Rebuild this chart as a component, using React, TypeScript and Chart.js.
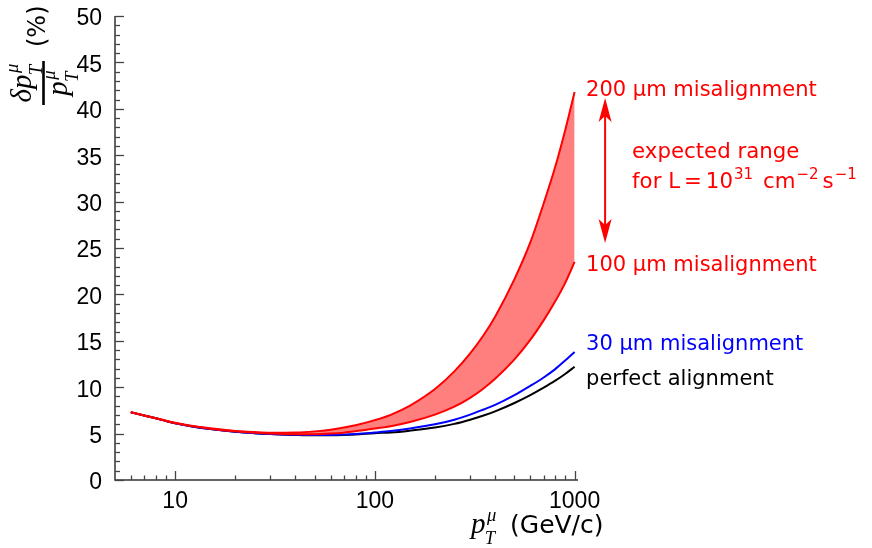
import React, { useEffect, useRef } from 'react';
import { Chart, registerables } from 'chart.js';

Chart.register(...registerables);

// ---- data ----
const pT = [6, 7, 8, 9, 10, 12, 15, 20, 25, 30, 40, 50, 60, 70, 80, 100, 120, 150, 200, 250, 300, 350, 400, 500, 600, 700, 800, 900, 1000];
const perfectAlignment = [7.3, 6.95, 6.65, 6.35, 6.12, 5.8, 5.5, 5.2, 5.05, 4.95, 4.86, 4.82, 4.82, 4.85, 4.9, 5.05, 5.12, 5.32, 5.65, 6.05, 6.5, 6.95, 7.4, 8.3, 9.15, 9.95, 10.7, 11.45, 12.2];
const misalign30 = [7.3, 6.95, 6.65, 6.35, 6.12, 5.8, 5.5, 5.2, 5.05, 4.96, 4.87, 4.84, 4.85, 4.9, 4.96, 5.12, 5.27, 5.55, 6.0, 6.5, 7.05, 7.6, 8.1, 9.15, 10.15, 11.05, 11.95, 12.9, 13.8];
const misalign100 = [7.3, 6.95, 6.65, 6.36, 6.13, 5.82, 5.53, 5.25, 5.1, 5.0, 4.94, 4.94, 5.0, 5.1, 5.25, 5.55, 5.8, 6.25, 7.05, 7.9, 8.85, 9.86, 10.9, 13.0, 15.1, 17.2, 19.25, 21.3, 23.5];
const misalign200 = [7.3, 6.96, 6.66, 6.38, 6.16, 5.86, 5.58, 5.28, 5.16, 5.1, 5.12, 5.24, 5.42, 5.65, 5.9, 6.45, 7.02, 8.02, 9.8, 11.7, 13.65, 15.6, 17.6, 21.65, 25.6, 29.8, 33.75, 37.8, 41.8];

const xMajorTicks = [10, 100, 1000];
const xMinorTicks = [6, 7, 8, 9, 20, 30, 40, 50, 60, 70, 80, 90, 200, 300, 400, 500, 600, 700, 800, 900];
const X_MIN = 5;
const X_MAX = 1040;
const Y_MIN = 0;
const Y_MAX = 50;
const Y_STEP = 5;
const Y_MINOR_STEP = 1;

const label200 = '200 µm misalignment';
const label100 = '100 µm misalignment';
const label30 = '30 µm misalignment';
const labelPerfect = 'perfect alignment';
const rangeLine1 = 'expected range';

const RED = '#ff0000';
const BLUE = '#0000ff';
const BLACK = '#000000';
const SANS = '"DejaVu Sans"';
const TICK_FONT = '"Liberation Sans"';
const SERIF = '"Liberation Serif"';

function toPoints(ys: number[]) {
  return pT.map((x, i) => ({ x, y: ys[i] }));
}

// draws p_T^mu (optionally with delta prefix), returns width
function drawPT(ctx: CanvasRenderingContext2D, x: number, y: number, s: number, withDelta: boolean) {
  ctx.font = `italic ${s}px ${SERIF}`;
  const base = (withDelta ? 'δ' : '') + 'p';
  ctx.fillText(base, x, y);
  const w = ctx.measureText(base).width;
  const ss = s * 0.64;
  ctx.font = `italic ${ss}px ${SERIF}`;
  ctx.fillText('μ', x + w + 1.5, y - s * 0.42);
  ctx.fillText('T', x + w - s * 0.03, y + s * 0.38);
  const w2 = Math.max(ctx.measureText('μ').width + 1.5, ctx.measureText('T').width);
  return w + w2;
}

function ptWidth(ctx: CanvasRenderingContext2D, s: number, withDelta: boolean) {
  ctx.font = `italic ${s}px ${SERIF}`;
  const w = ctx.measureText((withDelta ? 'δ' : '') + 'p').width;
  ctx.font = `italic ${s * 0.64}px ${SERIF}`;
  return w + Math.max(ctx.measureText('μ').width + 1.5, ctx.measureText('T').width);
}

function arrowHead(ctx: CanvasRenderingContext2D, x: number, tipY: number, dir: number) {
  const L = 24, W = 6.5, N = 18;
  ctx.beginPath();
  ctx.moveTo(x, tipY);
  ctx.lineTo(x - W, tipY + dir * L);
  ctx.lineTo(x, tipY + dir * N);
  ctx.lineTo(x + W, tipY + dir * L);
  ctx.closePath();
  ctx.fill();
}

const decorPlugin = {
  id: 'decor',
  afterDraw(chart: any) {
    const { ctx, chartArea: ca, scales } = chart;
    const xs = scales.x;
    const ys = scales.y;
    ctx.save();

    // axes
    ctx.strokeStyle = '#333';
    ctx.lineWidth = 1.5;
    ctx.beginPath();
    ctx.moveTo(ca.left, ca.top);
    ctx.lineTo(ca.left, ca.bottom);
    ctx.lineTo(ca.right, ca.bottom);
    ctx.stroke();

    // y ticks (inside)
    ctx.lineWidth = 1.3;
    ctx.strokeStyle = '#444';
    for (let v = Y_MIN; v <= Y_MAX + 1e-9; v += Y_MINOR_STEP) {
      const py = Math.round(ys.getPixelForValue(v)) + 0.5;
      const len = Math.abs(v % Y_STEP) < 1e-9 ? 9 : 5;
      ctx.beginPath();
      ctx.moveTo(ca.left, py);
      ctx.lineTo(ca.left + len, py);
      ctx.stroke();
    }
    // x ticks (inside)
    xs.ticks.forEach((t: any) => {
      const px = Math.round(xs.getPixelForValue(t.value)) + 0.5;
      const len = t.major ? 9 : 4.5;
      ctx.beginPath();
      ctx.moveTo(px, ca.bottom);
      ctx.lineTo(px, ca.bottom - len);
      ctx.stroke();
    });

    // x title
    ctx.fillStyle = BLACK;
    ctx.textBaseline = 'alphabetic';
    ctx.textAlign = 'left';
    const xt = 471;
    const wpt = drawPT(ctx, xt, 533, 29, false);
    ctx.font = `25px ${SANS}`;
    ctx.fillText('(GeV/c)', Math.max(xt + wpt + 8, 510), 533);

    // y title (rotated)
    ctx.save();
    ctx.translate(43.5, 105);
    ctx.rotate(-Math.PI / 2);
    ctx.fillRect(0, -1.3, 44, 2.6);
    const numW = ptWidth(ctx, 29, true);
    drawPT(ctx, 22 - numW / 2, -13, 29, true);
    const denW = ptWidth(ctx, 29, false);
    drawPT(ctx, 22 - denW / 2, 23.5, 29, false);
    ctx.font = `24px ${SANS}`;
    ctx.fillText('(%)', 58, 1);
    ctx.restore();

    // annotations
    const xEnd = xs.getPixelForValue(1000);
    const lx = xEnd + 11.5;
    ctx.font = `21px ${SANS}`;
    ctx.fillStyle = RED;
    ctx.fillText(label200, lx, 96);
    ctx.fillText(label100, lx, 270.7);
    ctx.fillStyle = BLUE;
    ctx.fillText(label30, lx, 350);
    ctx.fillStyle = BLACK;
    ctx.fillText(labelPerfect, lx, 385);

    // arrow
    const ax = xEnd + 30.5;
    ctx.fillStyle = RED;
    ctx.strokeStyle = RED;
    ctx.lineWidth = 2;
    ctx.beginPath();
    ctx.moveTo(ax, 98 + 18);
    ctx.lineTo(ax, 243 - 18);
    ctx.stroke();
    arrowHead(ctx, ax, 98, 1);
    arrowHead(ctx, ax, 243, -1);

    // expected range text
    const tx = xEnd + 57.5;
    const big = `21.3px ${SANS}`;
    const small = `15px ${SANS}`;
    ctx.font = big;
    ctx.fillText(rangeLine1, tx, 158.3);
    const b2 = 188.3;
    const sup = b2 - 9;
    let cx = tx;
    const run = (t: string, f: string, y: number, after: number) => {
      ctx.font = f;
      ctx.fillText(t, cx, y);
      cx += ctx.measureText(t).width + after;
    };
    run('for L', big, b2, 4);
    run('=', big, b2, 4);
    run('10', big, b2, 1);
    run('31', small, sup, 10);
    run('cm', big, b2, 1);
    run('−2', small, sup, 4);
    run('s', big, b2, 1);
    run('−1', small, sup, 0);

    ctx.restore();
  },
};

export default function App() {
  const ref = useRef<HTMLCanvasElement>(null);
  useEffect(() => {
    document.body.style.margin = '0';
    const common = {
      borderWidth: 2,
      fill: false,
      pointRadius: 0,
      cubicInterpolationMode: 'monotone',
    };
    const chart = new Chart(ref.current as HTMLCanvasElement, {
      type: 'line',
      data: {
        datasets: [
          { ...common, label: label200, data: toPoints(misalign200), borderColor: RED, backgroundColor: 'rgba(255,0,0,0.5)', fill: '+1' },
          { ...common, label: label100, data: toPoints(misalign100), borderColor: RED },
          { ...common, label: label30, data: toPoints(misalign30), borderColor: BLUE },
          { ...common, label: labelPerfect, data: toPoints(perfectAlignment), borderColor: BLACK },
        ],
      },
      options: {
        animation: false,
        responsive: false,
        devicePixelRatio: 1,
        layout: { padding: { left: 0, right: 294, top: 16, bottom: 0 } },
        plugins: {
          legend: { display: false },
          tooltip: { enabled: false },
          filler: { drawTime: 'beforeDatasetsDraw' },
        },
        scales: {
          x: {
            type: 'logarithmic',
            min: X_MIN,
            max: X_MAX,
            grid: { display: false, drawTicks: false },
            border: { display: false },
            afterBuildTicks: (s: any) => {
              s.ticks = [...xMinorTicks, ...xMajorTicks]
                .sort((a, b) => a - b)
                .map((v) => ({ value: v, major: xMajorTicks.includes(v) }));
            },
            afterFit: (s: any) => {
              s.height = 68;
              s.paddingLeft = 0;
              s.paddingRight = 0;
            },
            ticks: {
              autoSkip: false,
              maxRotation: 0,
              minRotation: 0,
              padding: 8,
              color: BLACK,
              font: { family: TICK_FONT, size: 23 },
              callback: (v: any) => (xMajorTicks.includes(Number(v)) ? String(v) : ''),
            },
          },
          y: {
            type: 'linear',
            min: Y_MIN,
            max: Y_MAX,
            grid: { display: false, drawTicks: false },
            border: { display: false },
            afterFit: (s: any) => {
              s.width = 115;
              s.paddingTop = 0;
              s.paddingBottom = 0;
            },
            ticks: {
              stepSize: Y_STEP,
              padding: 13,
              labelOffset: 3,
              color: BLACK,
              font: { family: TICK_FONT, size: 23 },
            },
          },
        },
      } as any,
      plugins: [decorPlugin],
    });
    return () => chart.destroy();
  }, []);
  return (
    <div style={{ width: 872, height: 548 }}>
      <canvas ref={ref} width={872} height={548} style={{ display: 'block' }} />
    </div>
  );
}
